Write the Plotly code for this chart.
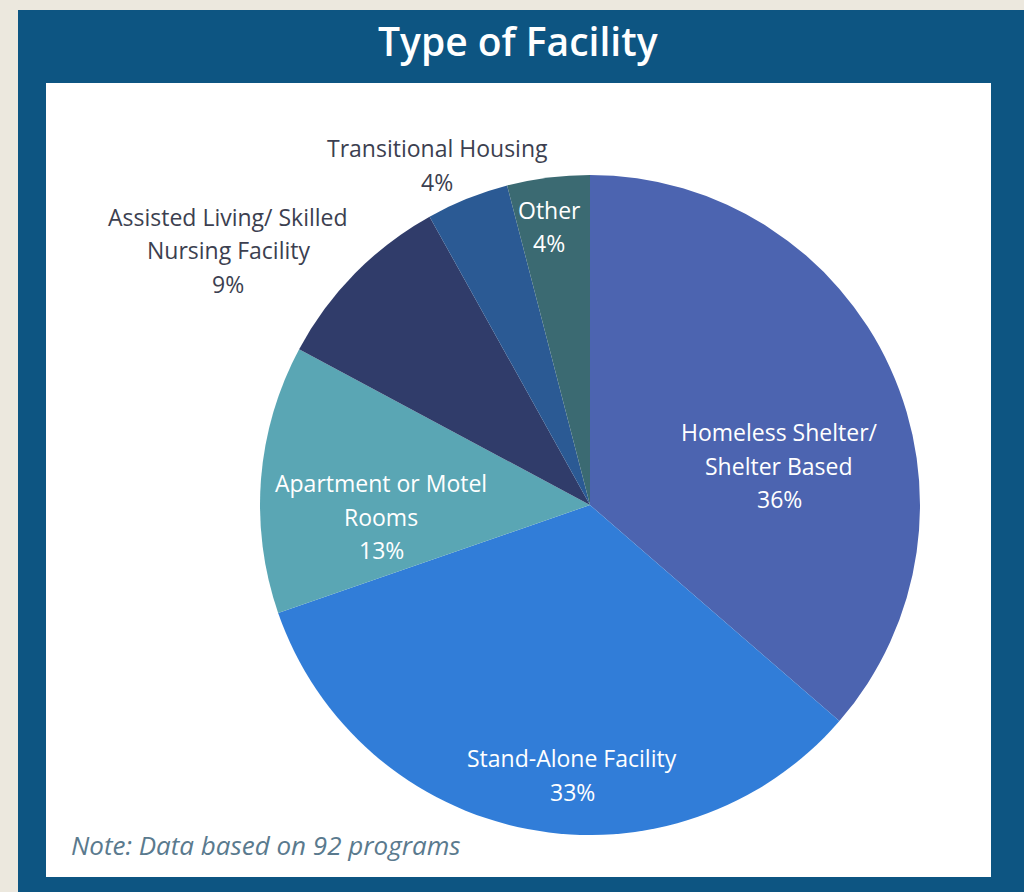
import plotly.graph_objects as go

# ---- data ----
categories = ["Homeless Shelter/ Shelter Based", "Stand-Alone Facility",
              "Apartment or Motel Rooms", "Assisted Living/ Skilled Nursing Facility",
              "Transitional Housing", "Other"]
percents = [36, 33, 13, 9, 4, 4]
colors = ["#4c64b0", "#317dd8", "#5aa6b4", "#303c6a", "#2b5a94", "#3b6a72"]

# label text lines (display) and their placement in pixels (layout only)
label_lines = [
    ["Homeless Shelter/", "Shelter Based", "36%"],
    ["Stand-Alone Facility", "33%"],
    ["Apartment or Motel", "Rooms", "13%"],
    ["Assisted Living/ Skilled", "Nursing Facility", "9%"],
    ["Transitional Housing", "4%"],
    ["Other", "4%"],
]
label_pos = [(779, 432), (572, 758), (381, 483), (228, 217), (437, 148), (549, 210)]
label_color = ["white", "white", "white", "#3c3f50", "#3c3f50", "white"]

W, H = 1024, 892
LINE = 33.5

def px(x):
    return x / W

def py(y):
    return 1 - y / H

fig = go.Figure()
fig.add_trace(go.Pie(
    labels=categories, values=percents, sort=False, direction="clockwise",
    rotation=0, textinfo="none", marker=dict(colors=colors, line=dict(width=0)),
    domain=dict(x=[px(260), px(920)], y=[py(835), py(175)]),
    showlegend=False,
))

annotations = []
for lines, (cx, cy), col in zip(label_lines, label_pos, label_color):
    for i, t in enumerate(lines):
        annotations.append(dict(
            x=px(cx), y=py(cy + i * LINE), xref="paper", yref="paper",
            text=t, showarrow=False, xanchor="center", yanchor="middle",
            font=dict(family="Open Sans", size=23, color=col)))

annotations.append(dict(
    x=px(518), y=py(41), xref="paper", yref="paper", text="Type of Facility",
    showarrow=False, xanchor="center", yanchor="middle",
    font=dict(family="Open Sans", size=39, color="white", weight=600)))
annotations.append(dict(
    x=px(69), y=py(845), xref="paper", yref="paper",
    text="<i>Note: Data based on 92 programs</i>",
    showarrow=False, xanchor="left", yanchor="middle",
    font=dict(family="Open Sans", size=26, color="#5a7a8e")))

shapes = [
    dict(type="rect", xref="paper", yref="paper", x0=px(18), x1=1.0, y0=0, y1=py(10),
         fillcolor="#0d5582", line=dict(width=0), layer="below"),
    dict(type="rect", xref="paper", yref="paper", x0=px(46), x1=px(991), y0=py(877), y1=py(83),
         fillcolor="white", line=dict(width=0), layer="below"),
]

fig.update_layout(
    width=W, height=H, margin=dict(l=0, r=0, t=0, b=0),
    paper_bgcolor="#ece8de", plot_bgcolor="#ece8de",
    annotations=annotations, shapes=shapes,
)
fig.write_html("out.html", config={"displayModeBar": False},
               post_script="document.body.style.margin='0px';document.body.style.overflow='hidden';")
